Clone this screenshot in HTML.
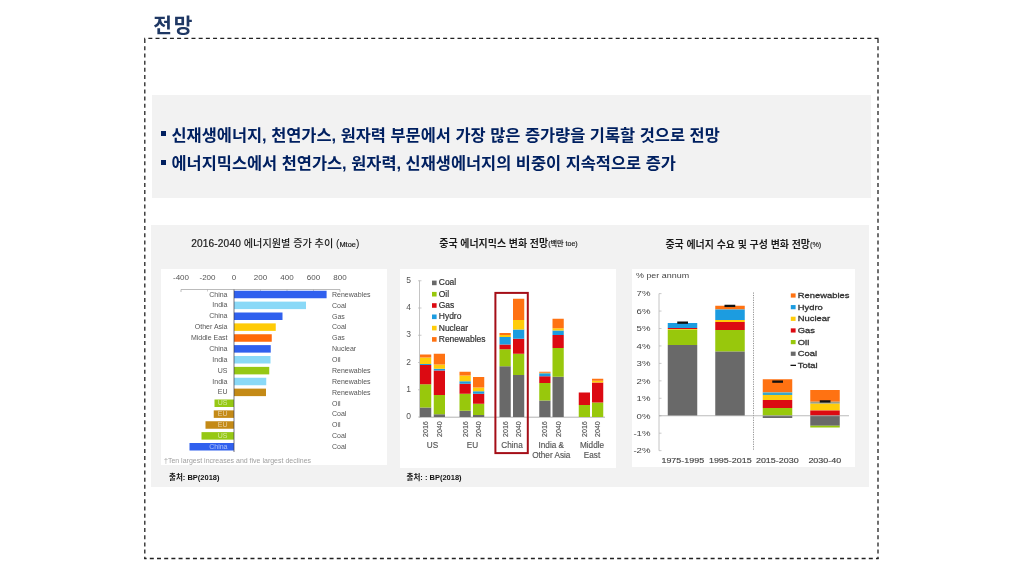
<!DOCTYPE html>
<html lang="ko"><head><meta charset="utf-8"><title>전망</title>
<style>
html,body{margin:0;padding:0;background:#fff;}
body{width:1024px;height:576px;position:relative;overflow:hidden;font-family:"Liberation Sans","Noto Sans CJK KR",sans-serif;}
.abs{position:absolute;}
#title{left:153.2px;top:10.5px;font-size:20.3px;font-weight:bold;color:#1f3864;line-height:30px;white-space:nowrap;letter-spacing:2px;}
#frame{left:140px;top:30px;width:760px;height:540px;}
#box1{left:152px;top:95px;width:718.5px;height:102.5px;background:#f2f2f2;}
#box2{left:150.5px;top:225px;width:718.5px;height:261.75px;background:#f2f2f2;}
.bl{left:160.5px;font-size:16.42px;font-weight:bold;color:#002060;line-height:24px;white-space:nowrap;}
.bl i{display:inline-block;width:5.5px;height:5px;background:#002060;vertical-align:middle;margin-right:5.5px;position:relative;top:-2.6px;}
.w{background:#fff;}
svg text{font-family:"Liberation Sans","Noto Sans CJK KR",sans-serif;}
</style></head><body>
<div id="title" class="abs">전망</div>
<svg id="frame" class="abs" width="760" height="540" viewBox="140 30 760 540"><g fill="none" stroke="#222" stroke-width="1.3" stroke-dasharray="4 3.19"><path d="M144.2 38.4H878.6" stroke-dashoffset="3.05"/><path d="M878 37.8V559.1" stroke-dashoffset="5.9"/><path d="M144.2 558.5H878.6" stroke-dashoffset="1.58"/><path d="M144.8 37.8V559.1" stroke-dashoffset="5.9"/></g></svg>
<div id="box1" class="abs"></div>
<div class="abs bl" style="top:122.9px"><i></i>신재생에너지, 천연가스, 원자력 부문에서 가장 많은 증가량을 기록할 것으로 전망</div>
<div class="abs bl" style="top:151.2px"><i></i>에너지믹스에서 천연가스, 원자력, 신재생에너지의 비중이 지속적으로 증가</div>
<div id="box2" class="abs"></div>
<div class="abs w" style="left:161px;top:268.5px;width:225.8px;height:196.4px"></div>
<div class="abs w" style="left:400px;top:268.75px;width:216.25px;height:199.3px"></div>
<div class="abs w" style="left:631.5px;top:268.75px;width:223.5px;height:198px"></div>
<svg class="abs" style="left:0;top:0" width="1024" height="576" viewBox="0 0 1024 576">

<text x="191.2" y="247.3" font-size="10.15" fill="#1a1a1a" text-anchor="start" font-weight="500" ><tspan stroke="#1a1a1a" stroke-width="0.2" letter-spacing="0.15">2016-2040</tspan> 에너지원별 증가 추이 (<tspan font-size="7.4" dy="-0.3" stroke="#1a1a1a" stroke-width="0.2">Mtoe</tspan><tspan dy="0.3">)</tspan></text>
<text x="508.5" y="247.3" font-size="9.95" fill="#1a1a1a" text-anchor="middle" font-weight="bold" >중국 에너지믹스 변화 전망<tspan font-size="7.1" dy="-1" font-weight="500" fill="#222" stroke="#222" stroke-width="0.15">(백만 toe)</tspan></text>
<text x="743.3" y="248" font-size="9.95" fill="#1a1a1a" text-anchor="middle" font-weight="bold" >중국 에너지 수요 및 구성 변화 전망<tspan font-size="7.2" dy="-0.9" font-weight="normal" fill="#333" stroke="#333" stroke-width="0.2">(%)</tspan></text>
<text x="181.0" y="280.3" font-size="8" fill="#555" text-anchor="middle" font-weight="normal" >-400</text>
<text x="207.5" y="280.3" font-size="8" fill="#555" text-anchor="middle" font-weight="normal" >-200</text>
<text x="234.0" y="280.3" font-size="8" fill="#555" text-anchor="middle" font-weight="normal" >0</text>
<text x="260.5" y="280.3" font-size="8" fill="#555" text-anchor="middle" font-weight="normal" >200</text>
<text x="287.0" y="280.3" font-size="8" fill="#555" text-anchor="middle" font-weight="normal" >400</text>
<text x="313.5" y="280.3" font-size="8" fill="#555" text-anchor="middle" font-weight="normal" >600</text>
<text x="340.0" y="280.3" font-size="8" fill="#555" text-anchor="middle" font-weight="normal" >800</text>
<path d="M181 292V289.5H340V292" fill="none" stroke="#aaa" stroke-width="0.8"/>
<path d="M207.5 289.5v2" stroke="#aaa" stroke-width="0.6"/>
<path d="M260.5 289.5v2" stroke="#aaa" stroke-width="0.6"/>
<path d="M287.0 289.5v2" stroke="#aaa" stroke-width="0.6"/>
<path d="M313.5 289.5v2" stroke="#aaa" stroke-width="0.6"/>
<rect x="234.00" y="290.75" width="92.60" height="7.50" fill="#3060ee"/>
<text x="227.5" y="296.6" font-size="7" fill="#555" text-anchor="end" font-weight="normal" >China</text>
<text x="332" y="296.8" font-size="7" fill="#555" text-anchor="start" font-weight="normal" >Renewables</text>
<rect x="234.00" y="301.62" width="72.00" height="7.50" fill="#8ad9f7"/>
<text x="227.5" y="307.475" font-size="7" fill="#555" text-anchor="end" font-weight="normal" >India</text>
<text x="332" y="307.675" font-size="7" fill="#555" text-anchor="start" font-weight="normal" >Coal</text>
<rect x="234.00" y="312.50" width="48.50" height="7.50" fill="#3060ee"/>
<text x="227.5" y="318.35" font-size="7" fill="#555" text-anchor="end" font-weight="normal" >China</text>
<text x="332" y="318.55" font-size="7" fill="#555" text-anchor="start" font-weight="normal" >Gas</text>
<rect x="234.00" y="323.38" width="41.75" height="7.50" fill="#ffcb05"/>
<text x="227.5" y="329.225" font-size="7" fill="#555" text-anchor="end" font-weight="normal" >Other Asia</text>
<text x="332" y="329.425" font-size="7" fill="#555" text-anchor="start" font-weight="normal" >Coal</text>
<rect x="234.00" y="334.25" width="37.75" height="7.50" fill="#ff6a0a"/>
<text x="227.5" y="340.1" font-size="7" fill="#555" text-anchor="end" font-weight="normal" >Middle East</text>
<text x="332" y="340.3" font-size="7" fill="#555" text-anchor="start" font-weight="normal" >Gas</text>
<rect x="234.00" y="345.12" width="36.75" height="7.50" fill="#3060ee"/>
<text x="227.5" y="350.975" font-size="7" fill="#555" text-anchor="end" font-weight="normal" >China</text>
<text x="332" y="351.175" font-size="7" fill="#555" text-anchor="start" font-weight="normal" >Nuclear</text>
<rect x="234.00" y="356.00" width="36.50" height="7.50" fill="#8ad9f7"/>
<text x="227.5" y="361.85" font-size="7" fill="#555" text-anchor="end" font-weight="normal" >India</text>
<text x="332" y="362.05" font-size="7" fill="#555" text-anchor="start" font-weight="normal" >Oil</text>
<rect x="234.00" y="366.88" width="35.25" height="7.50" fill="#96c814"/>
<text x="227.5" y="372.725" font-size="7" fill="#555" text-anchor="end" font-weight="normal" >US</text>
<text x="332" y="372.925" font-size="7" fill="#555" text-anchor="start" font-weight="normal" >Renewables</text>
<rect x="234.00" y="377.75" width="32.25" height="7.50" fill="#8ad9f7"/>
<text x="227.5" y="383.6" font-size="7" fill="#555" text-anchor="end" font-weight="normal" >India</text>
<text x="332" y="383.8" font-size="7" fill="#555" text-anchor="start" font-weight="normal" >Renewables</text>
<rect x="234.00" y="388.62" width="32.00" height="7.50" fill="#c48a16"/>
<text x="227.5" y="394.475" font-size="7" fill="#555" text-anchor="end" font-weight="normal" >EU</text>
<text x="332" y="394.675" font-size="7" fill="#555" text-anchor="start" font-weight="normal" >Renewables</text>
<rect x="214.50" y="399.50" width="19.50" height="7.50" fill="#96c814"/>
<text x="227.5" y="405.35" font-size="7" fill="#ffffff" text-anchor="end" font-weight="normal" fill-opacity="0.6">US</text>
<text x="332" y="405.55" font-size="7" fill="#555" text-anchor="start" font-weight="normal" >Oil</text>
<rect x="213.75" y="410.38" width="20.25" height="7.50" fill="#c48a16"/>
<text x="227.5" y="416.225" font-size="7" fill="#ffffff" text-anchor="end" font-weight="normal" fill-opacity="0.6">EU</text>
<text x="332" y="416.425" font-size="7" fill="#555" text-anchor="start" font-weight="normal" >Coal</text>
<rect x="205.50" y="421.25" width="28.50" height="7.50" fill="#c48a16"/>
<text x="227.5" y="427.1" font-size="7" fill="#ffffff" text-anchor="end" font-weight="normal" fill-opacity="0.6">EU</text>
<text x="332" y="427.3" font-size="7" fill="#555" text-anchor="start" font-weight="normal" >Oil</text>
<rect x="201.50" y="432.12" width="32.50" height="7.50" fill="#96c814"/>
<text x="227.5" y="437.975" font-size="7" fill="#ffffff" text-anchor="end" font-weight="normal" fill-opacity="0.6">US</text>
<text x="332" y="438.175" font-size="7" fill="#555" text-anchor="start" font-weight="normal" >Coal</text>
<rect x="189.50" y="443.00" width="44.50" height="7.50" fill="#3060ee"/>
<text x="227.5" y="448.85" font-size="7" fill="#ffffff" text-anchor="end" font-weight="normal" fill-opacity="0.6">China</text>
<text x="332" y="449.05" font-size="7" fill="#555" text-anchor="start" font-weight="normal" >Coal</text>
<path d="M234 289.5V452" stroke="#3a3a4a" stroke-width="0.7"/>
<text x="164" y="463.2" font-size="7.0" fill="#a0a0a0" text-anchor="start" font-weight="normal" >†Ten largest increases and five largest declines</text>
<text x="169" y="480.2" font-size="7.5" fill="#111" text-anchor="start" font-weight="bold" >출처: BP(2018)</text>
<text x="406.5" y="479.8" font-size="7.5" fill="#111" text-anchor="start" font-weight="bold" >출처: : BP(2018)</text>
<text x="411" y="419.2" font-size="8.5" fill="#555" text-anchor="end" font-weight="normal" >0</text>
<path d="M418 417.0h3.5" stroke="#b5b5b5" stroke-width="0.7"/>
<text x="411" y="391.95" font-size="8.5" fill="#555" text-anchor="end" font-weight="normal" >1</text>
<path d="M418 389.75h3.5" stroke="#b5b5b5" stroke-width="0.7"/>
<text x="411" y="364.7" font-size="8.5" fill="#555" text-anchor="end" font-weight="normal" >2</text>
<path d="M418 362.5h3.5" stroke="#b5b5b5" stroke-width="0.7"/>
<text x="411" y="337.45" font-size="8.5" fill="#555" text-anchor="end" font-weight="normal" >3</text>
<path d="M418 335.25h3.5" stroke="#b5b5b5" stroke-width="0.7"/>
<text x="411" y="310.2" font-size="8.5" fill="#555" text-anchor="end" font-weight="normal" >4</text>
<path d="M418 308.0h3.5" stroke="#b5b5b5" stroke-width="0.7"/>
<text x="411" y="282.95" font-size="8.5" fill="#555" text-anchor="end" font-weight="normal" >5</text>
<path d="M418 280.75h3.5" stroke="#b5b5b5" stroke-width="0.7"/>
<path d="M419.5 280.5V417" fill="none" stroke="#b5b5b5" stroke-width="0.8"/><path d="M419 417.2H605" fill="none" stroke="#aaa" stroke-width="0.9"/>
<rect x="432.00" y="280.60" width="4.60" height="4.60" fill="#696969"/>
<text x="438.75" y="285.3" font-size="8.5" fill="#333" text-anchor="start" font-weight="normal" stroke="#333" stroke-width="0.2">Coal</text>
<rect x="432.00" y="291.90" width="4.60" height="4.60" fill="#98c80c"/>
<text x="438.75" y="296.6" font-size="8.5" fill="#333" text-anchor="start" font-weight="normal" stroke="#333" stroke-width="0.2">Oil</text>
<rect x="432.00" y="303.20" width="4.60" height="4.60" fill="#dc0a12"/>
<text x="438.75" y="307.90000000000003" font-size="8.5" fill="#333" text-anchor="start" font-weight="normal" stroke="#333" stroke-width="0.2">Gas</text>
<rect x="432.00" y="314.50" width="4.60" height="4.60" fill="#1c9ce0"/>
<text x="438.75" y="319.20000000000005" font-size="8.5" fill="#333" text-anchor="start" font-weight="normal" stroke="#333" stroke-width="0.2">Hydro</text>
<rect x="432.00" y="325.80" width="4.60" height="4.60" fill="#ffcc0a"/>
<text x="438.75" y="330.5" font-size="8.5" fill="#333" text-anchor="start" font-weight="normal" stroke="#333" stroke-width="0.2">Nuclear</text>
<rect x="432.00" y="337.10" width="4.60" height="4.60" fill="#ff7212"/>
<text x="438.75" y="341.8" font-size="8.5" fill="#333" text-anchor="start" font-weight="normal" stroke="#333" stroke-width="0.2">Renewables</text>
<rect x="420.00" y="407.50" width="11.25" height="9.50" fill="#696969"/>
<rect x="420.00" y="384.25" width="11.25" height="23.25" fill="#98c80c"/>
<rect x="420.00" y="365.00" width="11.25" height="19.25" fill="#dc0a12"/>
<rect x="420.00" y="364.00" width="11.25" height="1.00" fill="#1c9ce0"/>
<rect x="420.00" y="357.50" width="11.25" height="6.50" fill="#ffcc0a"/>
<rect x="420.00" y="354.50" width="11.25" height="3.00" fill="#ff7212"/>
<rect x="433.75" y="414.25" width="11.25" height="2.75" fill="#696969"/>
<rect x="433.75" y="395.00" width="11.25" height="19.25" fill="#98c80c"/>
<rect x="433.75" y="370.50" width="11.25" height="24.50" fill="#dc0a12"/>
<rect x="433.75" y="368.75" width="11.25" height="1.75" fill="#1c9ce0"/>
<rect x="433.75" y="364.50" width="11.25" height="4.25" fill="#ffcc0a"/>
<rect x="433.75" y="353.75" width="11.25" height="10.75" fill="#ff7212"/>
<rect x="459.50" y="410.75" width="11.25" height="6.25" fill="#696969"/>
<rect x="459.50" y="393.75" width="11.25" height="17.00" fill="#98c80c"/>
<rect x="459.50" y="383.75" width="11.25" height="10.00" fill="#dc0a12"/>
<rect x="459.50" y="381.25" width="11.25" height="2.50" fill="#1c9ce0"/>
<rect x="459.50" y="375.50" width="11.25" height="5.75" fill="#ffcc0a"/>
<rect x="459.50" y="371.75" width="11.25" height="3.75" fill="#ff7212"/>
<rect x="473.00" y="415.00" width="11.25" height="2.00" fill="#696969"/>
<rect x="473.00" y="403.75" width="11.25" height="11.25" fill="#98c80c"/>
<rect x="473.00" y="393.75" width="11.25" height="10.00" fill="#dc0a12"/>
<rect x="473.00" y="391.25" width="11.25" height="2.50" fill="#1c9ce0"/>
<rect x="473.00" y="387.50" width="11.25" height="3.75" fill="#ffcc0a"/>
<rect x="473.00" y="377.00" width="11.25" height="10.50" fill="#ff7212"/>
<rect x="499.50" y="366.25" width="11.25" height="50.75" fill="#696969"/>
<rect x="499.50" y="349.25" width="11.25" height="17.00" fill="#98c80c"/>
<rect x="499.50" y="344.50" width="11.25" height="4.75" fill="#dc0a12"/>
<rect x="499.50" y="337.00" width="11.25" height="7.50" fill="#1c9ce0"/>
<rect x="499.50" y="335.00" width="11.25" height="2.00" fill="#ffcc0a"/>
<rect x="499.50" y="333.00" width="11.25" height="2.00" fill="#ff7212"/>
<rect x="513.00" y="375.00" width="11.25" height="42.00" fill="#696969"/>
<rect x="513.00" y="353.75" width="11.25" height="21.25" fill="#98c80c"/>
<rect x="513.00" y="338.75" width="11.25" height="15.00" fill="#dc0a12"/>
<rect x="513.00" y="329.50" width="11.25" height="9.25" fill="#1c9ce0"/>
<rect x="513.00" y="320.00" width="11.25" height="9.50" fill="#ffcc0a"/>
<rect x="513.00" y="298.75" width="11.25" height="21.25" fill="#ff7212"/>
<rect x="539.25" y="400.50" width="11.25" height="16.50" fill="#696969"/>
<rect x="539.25" y="383.00" width="11.25" height="17.50" fill="#98c80c"/>
<rect x="539.25" y="376.25" width="11.25" height="6.75" fill="#dc0a12"/>
<rect x="539.25" y="373.25" width="11.25" height="3.00" fill="#1c9ce0"/>
<rect x="539.25" y="372.75" width="11.25" height="0.50" fill="#ffcc0a"/>
<rect x="539.25" y="371.75" width="11.25" height="1.00" fill="#ff7212"/>
<rect x="552.50" y="376.75" width="11.25" height="40.25" fill="#696969"/>
<rect x="552.50" y="348.00" width="11.25" height="28.75" fill="#98c80c"/>
<rect x="552.50" y="335.00" width="11.25" height="13.00" fill="#dc0a12"/>
<rect x="552.50" y="330.50" width="11.25" height="4.50" fill="#1c9ce0"/>
<rect x="552.50" y="328.25" width="11.25" height="2.25" fill="#ffcc0a"/>
<rect x="552.50" y="318.75" width="11.25" height="9.50" fill="#ff7212"/>
<rect x="578.75" y="405.00" width="11.25" height="12.00" fill="#98c80c"/>
<rect x="578.75" y="392.50" width="11.25" height="12.50" fill="#dc0a12"/>
<rect x="592.00" y="402.50" width="11.25" height="14.50" fill="#98c80c"/>
<rect x="592.00" y="382.50" width="11.25" height="20.00" fill="#dc0a12"/>
<rect x="592.00" y="380.75" width="11.25" height="1.75" fill="#ffcc0a"/>
<rect x="592.00" y="378.75" width="11.25" height="2.00" fill="#ff7212"/>
<text transform="translate(428.15 437) rotate(-90)" font-size="7.1" fill="#555" stroke="#555" stroke-width="0.15">2016</text>
<text transform="translate(441.90 437) rotate(-90)" font-size="7.1" fill="#555" stroke="#555" stroke-width="0.15">2040</text>
<text transform="translate(467.65 437) rotate(-90)" font-size="7.1" fill="#555" stroke="#555" stroke-width="0.15">2016</text>
<text transform="translate(481.15 437) rotate(-90)" font-size="7.1" fill="#555" stroke="#555" stroke-width="0.15">2040</text>
<text transform="translate(507.65 437) rotate(-90)" font-size="7.1" fill="#555" stroke="#555" stroke-width="0.15">2016</text>
<text transform="translate(521.15 437) rotate(-90)" font-size="7.1" fill="#555" stroke="#555" stroke-width="0.15">2040</text>
<text transform="translate(547.40 437) rotate(-90)" font-size="7.1" fill="#555" stroke="#555" stroke-width="0.15">2016</text>
<text transform="translate(560.65 437) rotate(-90)" font-size="7.1" fill="#555" stroke="#555" stroke-width="0.15">2040</text>
<text transform="translate(586.90 437) rotate(-90)" font-size="7.1" fill="#555" stroke="#555" stroke-width="0.15">2016</text>
<text transform="translate(600.15 437) rotate(-90)" font-size="7.1" fill="#555" stroke="#555" stroke-width="0.15">2040</text>
<text x="432.5" y="448" font-size="8.2" fill="#555" text-anchor="middle" font-weight="normal" stroke="#555" stroke-width="0.15">US</text>
<text x="472.5" y="448" font-size="8.2" fill="#555" text-anchor="middle" font-weight="normal" stroke="#555" stroke-width="0.15">EU</text>
<text x="512" y="448" font-size="8.2" fill="#555" text-anchor="middle" font-weight="normal" stroke="#555" stroke-width="0.15">China</text>
<text x="551.25" y="448" font-size="8.2" fill="#555" text-anchor="middle" font-weight="normal" stroke="#555" stroke-width="0.15">India &amp;</text>
<text x="551.25" y="458.2" font-size="8.2" fill="#555" text-anchor="middle" font-weight="normal" stroke="#555" stroke-width="0.15">Other Asia</text>
<text x="592" y="448" font-size="8.2" fill="#555" text-anchor="middle" font-weight="normal" stroke="#555" stroke-width="0.15">Middle</text>
<text x="592" y="458.2" font-size="8.2" fill="#555" text-anchor="middle" font-weight="normal" stroke="#555" stroke-width="0.15">East</text>
<rect x="495.4" y="292.9" width="32.4" height="160.2" fill="none" stroke="#a50e17" stroke-width="2"/>
<text transform="translate(636 278.4) scale(1.16 1)" font-size="7.7" fill="#444" text-anchor="start" >% per annum</text>
<text transform="translate(650.5 453.45) scale(1.25 1)" font-size="7.7" fill="#444" text-anchor="end" >-2%</text>
<path d="M659 450.65h2.5" stroke="#b5b5b5" stroke-width="0.7"/>
<text transform="translate(650.5 436.0) scale(1.25 1)" font-size="7.7" fill="#444" text-anchor="end" >-1%</text>
<path d="M659 433.20h2.5" stroke="#b5b5b5" stroke-width="0.7"/>
<text transform="translate(650.5 418.55) scale(1.25 1)" font-size="7.7" fill="#444" text-anchor="end" >0%</text>
<path d="M659 415.75h2.5" stroke="#b5b5b5" stroke-width="0.7"/>
<text transform="translate(650.5 401.1) scale(1.25 1)" font-size="7.7" fill="#444" text-anchor="end" >1%</text>
<path d="M659 398.30h2.5" stroke="#b5b5b5" stroke-width="0.7"/>
<text transform="translate(650.5 383.65000000000003) scale(1.25 1)" font-size="7.7" fill="#444" text-anchor="end" >2%</text>
<path d="M659 380.85h2.5" stroke="#b5b5b5" stroke-width="0.7"/>
<text transform="translate(650.5 366.2) scale(1.25 1)" font-size="7.7" fill="#444" text-anchor="end" >3%</text>
<path d="M659 363.40h2.5" stroke="#b5b5b5" stroke-width="0.7"/>
<text transform="translate(650.5 348.75) scale(1.25 1)" font-size="7.7" fill="#444" text-anchor="end" >4%</text>
<path d="M659 345.95h2.5" stroke="#b5b5b5" stroke-width="0.7"/>
<text transform="translate(650.5 331.3) scale(1.25 1)" font-size="7.7" fill="#444" text-anchor="end" >5%</text>
<path d="M659 328.50h2.5" stroke="#b5b5b5" stroke-width="0.7"/>
<text transform="translate(650.5 313.85) scale(1.25 1)" font-size="7.7" fill="#444" text-anchor="end" >6%</text>
<path d="M659 311.05h2.5" stroke="#b5b5b5" stroke-width="0.7"/>
<text transform="translate(650.5 296.40000000000003) scale(1.25 1)" font-size="7.7" fill="#444" text-anchor="end" >7%</text>
<path d="M659 293.60h2.5" stroke="#b5b5b5" stroke-width="0.7"/>
<path d="M659 293.60V450.65" stroke="#b5b5b5" stroke-width="0.8"/>
<path d="M753.5 292.5V450" stroke="#777" stroke-width="0.8" stroke-dasharray="1.2 1.2"/>
<rect x="667.75" y="323.00" width="29.50" height="5.00" fill="#1c9ce0"/>
<rect x="667.75" y="328.00" width="29.50" height="1.00" fill="#dc0a12"/>
<rect x="667.75" y="329.00" width="29.50" height="0.75" fill="#ffcc0a"/>
<rect x="667.75" y="329.75" width="29.50" height="15.25" fill="#98c80c"/>
<rect x="667.75" y="345.00" width="29.50" height="70.75" fill="#696969"/>
<rect x="715.25" y="305.75" width="29.50" height="3.75" fill="#ff7212"/>
<rect x="715.25" y="309.50" width="29.50" height="10.50" fill="#1c9ce0"/>
<rect x="715.25" y="320.00" width="29.50" height="2.00" fill="#ffcc0a"/>
<rect x="715.25" y="322.00" width="29.50" height="8.00" fill="#dc0a12"/>
<rect x="715.25" y="330.00" width="29.50" height="21.60" fill="#98c80c"/>
<rect x="715.25" y="351.60" width="29.50" height="64.15" fill="#696969"/>
<rect x="762.75" y="379.25" width="29.50" height="13.25" fill="#ff7212"/>
<rect x="762.75" y="392.50" width="29.50" height="2.50" fill="#3aa7c8"/>
<rect x="762.75" y="395.00" width="29.50" height="5.00" fill="#ffcc0a"/>
<rect x="762.75" y="400.00" width="29.50" height="8.00" fill="#dc0a12"/>
<rect x="762.75" y="408.00" width="29.50" height="7.75" fill="#98c80c"/>
<rect x="762.75" y="415.75" width="29.50" height="2.25" fill="#696969"/>
<rect x="810.25" y="390.00" width="29.50" height="11.75" fill="#ff7212"/>
<rect x="810.25" y="401.75" width="29.50" height="2.00" fill="#9aa08a"/>
<rect x="810.25" y="403.75" width="29.50" height="6.75" fill="#ffcc0a"/>
<rect x="810.25" y="410.50" width="29.50" height="5.25" fill="#dc0a12"/>
<rect x="810.25" y="415.75" width="29.50" height="10.00" fill="#696969"/>
<rect x="810.25" y="425.75" width="29.50" height="1.75" fill="#98c80c"/>
<path d="M659 415.75H849" stroke="#aaa" stroke-width="0.8"/>
<rect x="677.25" y="321.50" width="10.75" height="2.30" fill="#111"/>
<rect x="724.50" y="304.75" width="10.75" height="2.30" fill="#111"/>
<rect x="772.25" y="380.50" width="10.75" height="2.30" fill="#111"/>
<rect x="819.75" y="400.25" width="10.75" height="2.30" fill="#111"/>
<rect x="790.80" y="293.40" width="4.80" height="4.20" fill="#ff7212"/>
<text transform="translate(797.75 298.1) scale(1.22 1)" font-size="7.7" fill="#333" text-anchor="start" stroke="#333" stroke-width="0.3">Renewables</text>
<rect x="790.80" y="305.05" width="4.80" height="4.20" fill="#1c9ce0"/>
<text transform="translate(797.75 309.75) scale(1.22 1)" font-size="7.7" fill="#333" text-anchor="start" stroke="#333" stroke-width="0.3">Hydro</text>
<rect x="790.80" y="316.70" width="4.80" height="4.20" fill="#ffcc0a"/>
<text transform="translate(797.75 321.40000000000003) scale(1.22 1)" font-size="7.7" fill="#333" text-anchor="start" stroke="#333" stroke-width="0.3">Nuclear</text>
<rect x="790.80" y="328.35" width="4.80" height="4.20" fill="#dc0a12"/>
<text transform="translate(797.75 333.05) scale(1.22 1)" font-size="7.7" fill="#333" text-anchor="start" stroke="#333" stroke-width="0.3">Gas</text>
<rect x="790.80" y="340.00" width="4.80" height="4.20" fill="#98c80c"/>
<text transform="translate(797.75 344.70000000000005) scale(1.22 1)" font-size="7.7" fill="#333" text-anchor="start" stroke="#333" stroke-width="0.3">Oil</text>
<rect x="790.80" y="351.65" width="4.80" height="4.20" fill="#696969"/>
<text transform="translate(797.75 356.35) scale(1.22 1)" font-size="7.7" fill="#333" text-anchor="start" stroke="#333" stroke-width="0.3">Coal</text>
<rect x="790.50" y="364.70" width="5.50" height="1.30" fill="#111"/>
<text transform="translate(797.75 368.0) scale(1.22 1)" font-size="7.7" fill="#333" text-anchor="start" stroke="#333" stroke-width="0.3">Total</text>
<text transform="translate(682.75 463.1) scale(1.16 1)" font-size="7.7" fill="#444" text-anchor="middle" stroke="#444" stroke-width="0.15">1975-1995</text>
<text transform="translate(730.25 463.1) scale(1.16 1)" font-size="7.7" fill="#444" text-anchor="middle" stroke="#444" stroke-width="0.15">1995-2015</text>
<text transform="translate(777.25 463.1) scale(1.16 1)" font-size="7.7" fill="#444" text-anchor="middle" stroke="#444" stroke-width="0.15">2015-2030</text>
<text transform="translate(824.75 463.1) scale(1.16 1)" font-size="7.7" fill="#444" text-anchor="middle" stroke="#444" stroke-width="0.15">2030-40</text>
</svg>
</body></html>
